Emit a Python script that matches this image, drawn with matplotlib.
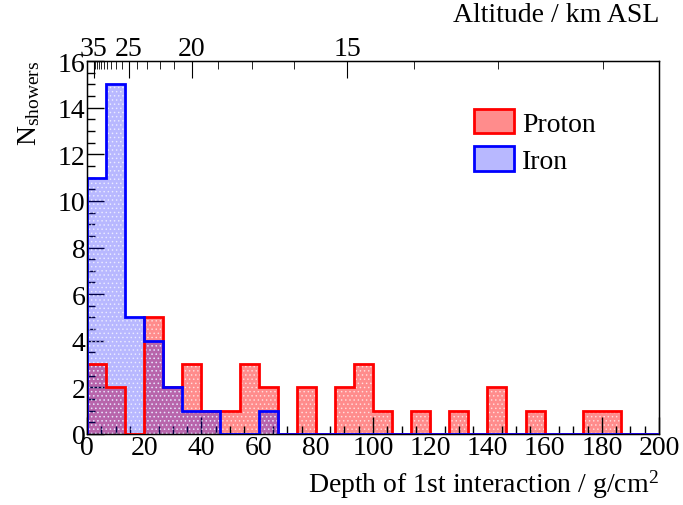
import numpy as np
import matplotlib
matplotlib.use("Agg")
import matplotlib.pyplot as plt
from matplotlib.patches import Patch
from matplotlib.ticker import MultipleLocator, FixedLocator, NullFormatter

plt.rcParams['font.family'] = ['Liberation Serif', 'DejaVu Serif']
plt.rcParams['mathtext.fontset'] = 'custom'
plt.rcParams['mathtext.rm'] = 'Liberation Serif'
plt.rcParams['mathtext.it'] = 'Liberation Serif:italic'
plt.rcParams['hatch.linewidth'] = 0.6

# ---- data ----
bin_edges = np.linspace(0, 200, 31)
proton_counts = [3, 2, 0, 5, 2, 3, 1, 1, 3, 2, 0, 2, 0, 2, 3, 1, 0, 1, 0, 1,
                 0, 2, 0, 1, 0, 0, 1, 1, 0, 0]
iron_counts = [11, 15, 5, 4, 2, 1, 1, 0, 0, 1, 0, 0, 0, 0, 0, 0, 0, 0, 0, 0,
               0, 0, 0, 0, 0, 0, 0, 0, 0, 0]
labels = ["Proton", "Iron"]

# altitude axis (km ASL) -> depth (g/cm^2) mapping
alt_major = [35, 25, 20, 15]
alt_major_labels = ["35", "25", "20", "15"]
alt_minor = [34, 33, 32, 31, 30, 29, 28, 27, 26, 24, 23, 22, 21,
             18.75, 17.5, 16.25, 13.75, 12.5, 11.25]
X0, H = 1406.0, 5.48


def alt_to_depth(h):
    return X0 * np.exp(-np.asarray(h, dtype=float) / H)


FS = 20
W, Hp = 683, 506
fig = plt.figure(figsize=(W / 100, Hp / 100), dpi=100)
ax = fig.add_axes([87 / W, (Hp - 435) / Hp, (659 - 87) / W, (435 - 62) / Hp])

red_fill = (1, 0, 0, 0.45)
blue_fill = (0, 0, 1, 0.28)

ax.stairs(proton_counts, bin_edges, fill=True, facecolor=red_fill,
          edgecolor=(1, 1, 1, 0.6), hatch='....', linewidth=0, zorder=1)
ax.stairs(iron_counts, bin_edges, fill=True, facecolor=blue_fill,
          edgecolor=(1, 1, 1, 0.6), hatch='....', linewidth=0, zorder=2)
ax.stairs(proton_counts, bin_edges, fill=False, edgecolor='red',
          linewidth=2, zorder=3)
ax.stairs(iron_counts, bin_edges, fill=False, edgecolor='blue',
          linewidth=2, zorder=4)

ax.set_xlim(0, 200)
ax.set_ylim(0, 16)

ax.xaxis.set_major_locator(MultipleLocator(20))
ax.xaxis.set_minor_locator(MultipleLocator(5))
ax.yaxis.set_major_locator(MultipleLocator(2))
ax.yaxis.set_minor_locator(MultipleLocator(0.5))
ax.tick_params(which='both', direction='in', top=False, right=False,
               labelsize=FS, width=1, color='black')
ax.tick_params(which='major', length=12, pad=1)
ax.tick_params(which='minor', length=6)
for s in ax.spines.values():
    s.set_linewidth(1)

# top altitude axis
axt = ax.twiny()
axt.set_xlim(0, 200)
axt.xaxis.set_major_locator(FixedLocator(alt_to_depth(alt_major)))
axt.set_xticklabels(alt_major_labels)
axt.xaxis.set_minor_locator(FixedLocator(alt_to_depth(alt_minor)))
axt.xaxis.set_minor_formatter(NullFormatter())
axt.tick_params(which='both', direction='in', labelsize=FS, pad=0,
                color='black')
axt.tick_params(which='major', length=12)
axt.tick_params(which='minor', length=6)

# labels
fig.text(659 / W, 1 - 493 / Hp, r'Depth of 1st interaction / g/cm$^{2}$',
         ha='right', va='baseline', fontsize=FS)
fig.text(659 / W, 1 - 22 / Hp, 'Altitude / km ASL', ha='right',
         va='baseline', fontsize=FS)
fig.text(29 / W, 1 - 61 / Hp, r'N$_{\mathrm{showers}}$', rotation=90,
         ha='center', va='top', fontsize=FS)

handles = [Patch(facecolor=red_fill, edgecolor='red', linewidth=2),
           Patch(facecolor=blue_fill, edgecolor='blue', linewidth=2)]
ax.legend(handles, labels, loc='upper left',
          bbox_to_anchor=((474 - 87) / 572, (435 - 110) / 373),
          frameon=False, fontsize=FS, handlelength=1.44, handleheight=0.97,
          handletextpad=0.3, labelspacing=0.35, borderpad=0, borderaxespad=0)

fig.savefig('out.png', dpi=100)
